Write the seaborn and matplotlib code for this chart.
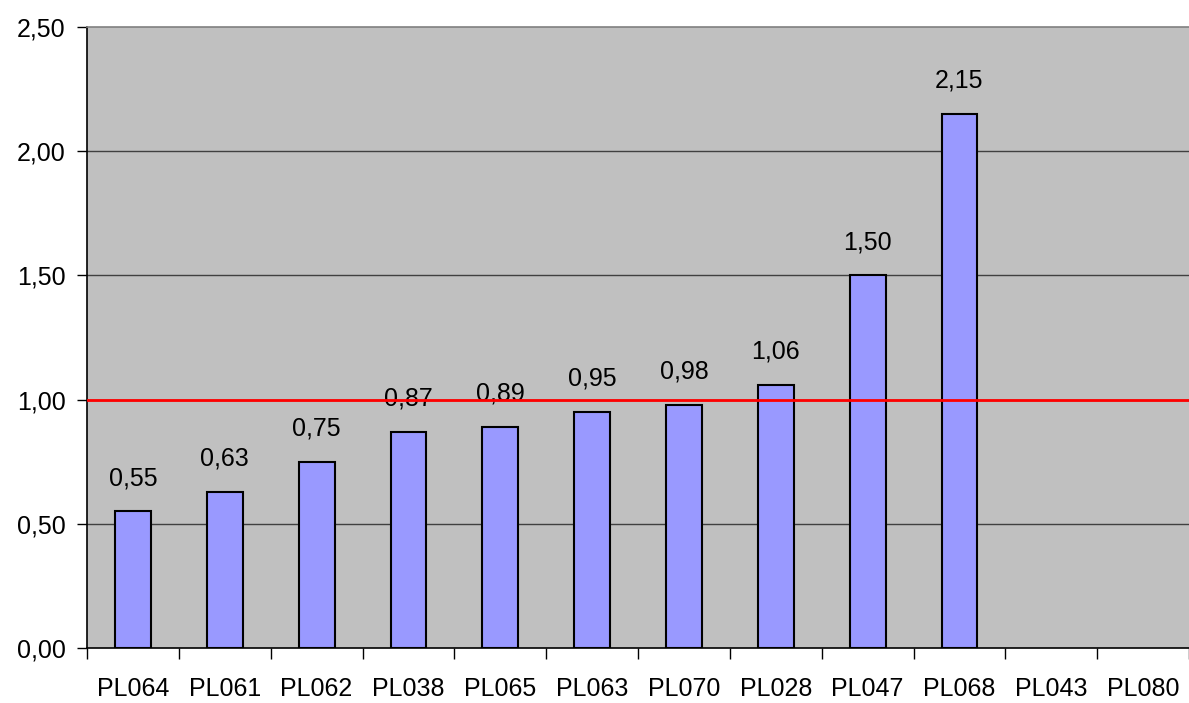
import numpy as np
import pandas as pd
import matplotlib
matplotlib.use("Agg")
import matplotlib.pyplot as plt
import seaborn as sns
from matplotlib.ticker import MultipleLocator, FixedLocator, FuncFormatter

categories = ["PL064", "PL061", "PL062", "PL038", "PL065", "PL063",
              "PL070", "PL028", "PL047", "PL068", "PL043", "PL080"]
values = [0.55, 0.63, 0.75, 0.87, 0.89, 0.95, 0.98, 1.06, 1.50, 2.15, np.nan, np.nan]
reference_level = 1.0

df = pd.DataFrame({"code": categories, "value": values})

sns.set_style("white")
plt.rcParams["font.family"] = ["Liberation Sans", "DejaVu Sans"]
plt.rcParams["text.color"] = "black"
plt.rcParams["xtick.color"] = "black"
plt.rcParams["ytick.color"] = "black"

fig = plt.figure(figsize=(11.89, 7.03), dpi=100)
ax = fig.add_axes([0.0732, 0.0782, 0.9268, 0.8834])
ax.set_facecolor("#C0C0C0")

sns.barplot(data=df, x="code", y="value", order=categories, color="#9999FF",
            saturation=1, width=0.39, edgecolor="black", linewidth=1.5,
            errorbar=None, ax=ax, zorder=2)

# grid lines
for y in [0.5, 1.0, 1.5, 2.0]:
    ax.axhline(y, color="#404040", lw=1, zorder=1)

# value labels
for i, v in enumerate(values):
    if not np.isnan(v):
        ax.annotate(f"{v:.2f}".replace(".", ","), (i, v), xytext=(0, 24),
                    textcoords="offset points", ha="center", va="center",
                    fontsize=18, color="black", zorder=3)

ax.axhline(reference_level, color="red", lw=2, zorder=4)

ax.set_xlim(-0.5, len(categories) - 0.5)
ax.set_ylim(0, 2.5)
ax.yaxis.set_major_locator(MultipleLocator(0.5))
ax.yaxis.set_major_formatter(FuncFormatter(lambda v, p: f"{v:.2f}".replace(".", ",")))
ax.xaxis.set_minor_locator(FixedLocator(np.arange(-0.5, len(categories), 1.0)))
ax.tick_params(axis="x", which="major", length=0, pad=21, labelsize=18, labelcolor="black")
ax.tick_params(axis="x", which="minor", length=8, width=1, color="black", direction="out", bottom=True)
ax.tick_params(axis="y", which="major", length=7, width=1, color="black", direction="out", left=True,
               labelsize=18, pad=8.5, labelcolor="black")
ax.set_xlabel("")
ax.set_ylabel("")

for s in ["left", "bottom"]:
    ax.spines[s].set_color("black")
    ax.spines[s].set_linewidth(1.2)
ax.spines["top"].set_color("#808080")
ax.spines["top"].set_linewidth(1.2)
ax.spines["right"].set_visible(False)

fig.savefig("out.png", dpi=100)
